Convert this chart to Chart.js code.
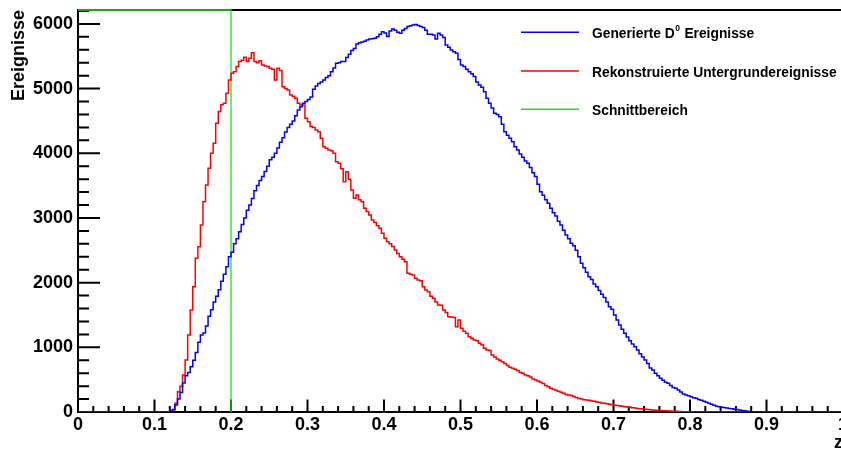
<!DOCTYPE html>
<html>
<head>
<meta charset="utf-8">
<script src="https://cdn.jsdelivr.net/npm/chart.js@4.4.1/dist/chart.umd.min.js"></script>
<style>
  html, body { margin: 0; padding: 0; background: #fff; overflow: hidden; }
  #wrap { width: 841px; height: 451px; overflow: hidden; }
  canvas { display: block; }
</style>
</head>
<body>
<div id="wrap"><canvas id="chart" width="850" height="451"></canvas></div>
<script>
// z-Verteilung: generierte D0 gegen rekonstruierten Untergrund, 300 Bins auf [0, 1]
const binWidth = 1 / 300;

const generierte = [
  0, 0, 0, 0, 0, 0, 0, 0, 0, 0, 0, 0, 0, 0, 0, 0, 0, 0, 0, 0,
  0, 0, 0, 0, 0, 0, 0, 0, 0, 0, 0, 0, 0, 0, 0, 0, 0, 10, 40, 110,
  200, 300, 450, 560, 610, 700, 800, 920, 1080, 1190, 1220, 1330, 1480, 1580, 1700, 1790, 1890, 2020, 2130, 2247,
  2401, 2470, 2600, 2680, 2788, 2900, 3000, 3120, 3200, 3300, 3420, 3500, 3580, 3640, 3720, 3800, 3900, 3940, 4000, 4080,
  4170, 4240, 4330, 4400, 4450, 4500, 4580, 4670, 4720, 4773, 4800, 4830, 4870, 4990, 5040, 5080, 5100, 5134, 5170, 5200,
  5260, 5320, 5392, 5400, 5417, 5420, 5480, 5530, 5590, 5620, 5690, 5710, 5720, 5730, 5750, 5768, 5770, 5780, 5800, 5840,
  5880, 5860, 5804, 5890, 5923, 5900, 5870, 5856, 5900, 5930, 5959, 5970, 5984, 5990, 5974, 5960, 5945, 5900, 5840, 5840,
  5830, 5768, 5856, 5830, 5788, 5675, 5640, 5597, 5570, 5546, 5450, 5366, 5340, 5300, 5262, 5230, 5185, 5100, 5056, 5020,
  4950, 4851, 4773, 4700, 4619, 4600, 4566, 4450, 4334, 4280, 4232, 4180, 4100, 4051, 3990, 3940, 3880, 3846, 3780, 3700,
  3640, 3520, 3407, 3350, 3280, 3227, 3150, 3080, 3030, 2950, 2892, 2810, 2737, 2680, 2610, 2570, 2500, 2400, 2299, 2230,
  2160, 2092, 2050, 1980, 1938, 1880, 1820, 1770, 1700, 1628, 1590, 1500, 1423, 1345, 1280, 1217, 1160, 1100, 1050, 1010,
  959, 900, 850, 804, 750, 680, 649, 600, 560, 520, 490, 460, 443, 410, 380, 366, 340, 310, 280, 263,
  250, 235, 220, 212, 195, 180, 165, 150, 135, 120, 105, 90, 82, 75, 68, 62, 56, 50, 44, 38,
  32, 25, 18, 10, 5, 2, 0, 0, 0, 0, 0, 0, 0, 0, 0, 0, 0, 0, 0, 0,
  0, 0, 0, 0, 0, 0, 0, 0, 0, 0, 0, 0, 0, 0, 0, 0, 0, 0, 0, 0
];

const untergrund = [
  0, 0, 0, 0, 0, 0, 0, 0, 0, 0, 0, 0, 0, 0, 0, 0, 0, 0, 0, 0,
  0, 0, 0, 0, 0, 0, 0, 0, 0, 0, 0, 0, 0, 0, 0, 0, 0, 10, 31, 134,
  314, 400, 572, 804, 1190, 1577, 1938, 2376, 2556, 2892, 3252, 3510, 3768, 4000, 4155, 4464, 4644, 4750, 4773, 4928,
  5134, 5237, 5262, 5340, 5417, 5440, 5485, 5417, 5470, 5556, 5420, 5400, 5430, 5366, 5350, 5340, 5314, 5300, 5134, 5314,
  5280, 5030, 5000, 4979, 4902, 4880, 4850, 4773, 4747, 4747, 4541, 4489, 4412, 4400, 4360, 4334, 4232, 4100, 4077, 4050,
  4040, 4000, 3870, 3846, 3760, 3561, 3716, 3600, 3433, 3304, 3356, 3280, 3252, 3149, 3100, 3046, 2969, 2930, 2880, 2840,
  2763, 2686, 2634, 2600, 2560, 2505, 2450, 2400, 2360, 2324, 2144, 2130, 2118, 2067, 2041, 2030, 1938, 1886, 1860, 1790,
  1758, 1700, 1655, 1650, 1577, 1540, 1474, 1470, 1460, 1319, 1423, 1294, 1250, 1217, 1165, 1140, 1113, 1100, 1062, 1040,
  985, 960, 950, 881, 850, 820, 800, 778, 750, 720, 690, 676, 660, 640, 610, 598, 572, 560, 540, 510,
  495, 480, 460, 440, 410, 390, 366, 350, 335, 320, 305, 290, 270, 263, 255, 240, 225, 210, 200, 190,
  186, 180, 170, 165, 155, 150, 140, 134, 128, 120, 112, 105, 100, 95, 88, 82, 78, 72, 66, 60,
  55, 50, 45, 41, 38, 35, 32, 28, 25, 22, 20, 18, 16, 15, 12, 10, 8, 6, 4, 2,
  1, 0, 0, 0, 0, 0, 0, 0, 0, 0, 0, 0, 0, 0, 0, 0, 0, 0, 0, 0,
  0, 0, 0, 0, 0, 0, 0, 0, 0, 0, 0, 0, 0, 0, 0, 0, 0, 0, 0, 0,
  0, 0, 0, 0, 0, 0, 0, 0, 0, 0, 0, 0, 0, 0, 0, 0, 0, 0, 0, 0
];

const schnittZ = 0.2;
const yMax = 6215;

const xTickValues = [0, 0.1, 0.2, 0.3, 0.4, 0.5, 0.6, 0.7, 0.8, 0.9, 1];
const xTickLabels = ['0', '0.1', '0.2', '0.3', '0.4', '0.5', '0.6', '0.7', '0.8', '0.9', '1'];
const yTickValues = [0, 1000, 2000, 3000, 4000, 5000, 6000];
const yTickLabels = ['0', '1000', '2000', '3000', '4000', '5000', '6000'];
const xMinorStep = 0.02;
const yMinorStep = 200;

const legendTexts = [
  [{ t: 'Generierte D' }, { t: '0', sup: true }, { t: ' Ereignisse' }],
  [{ t: 'Rekonstruierte Untergrundereignisse' }],
  [{ t: 'Schnittbereich' }]
];

const FONT = '"Liberation Sans", Arial, Helvetica, sans-serif';

// Histogramm -> Stufenpunkte an den linken Binkanten (+ rechte Kante des letzten Bins)
function histPoints(vals) {
  const pts = vals.map((v, i) => ({ x: i * binWidth, y: v }));
  pts.push({ x: vals.length * binWidth, y: vals[vals.length - 1] });
  return pts;
}

// Rahmen oben + ROOT-artige Ticks nach innen
const rahmen = {
  id: 'rahmen',
  beforeDatasetsDraw(chart) {
    const { ctx, chartArea: a, scales: { x, y } } = chart;
    ctx.save();
    ctx.strokeStyle = '#000';
    ctx.lineWidth = 2;
    ctx.beginPath();
    ctx.moveTo(a.left, a.top);
    ctx.lineTo(a.right + 2, a.top);
    for (let k = 0; k * yMinorStep <= yMax; k++) {
      const py = y.getPixelForValue(k * yMinorStep);
      const len = k % 5 === 0 ? 22 : 11;
      ctx.moveTo(a.left, py);
      ctx.lineTo(a.left + len, py);
    }
    for (let k = 0; k * xMinorStep <= 1.0001; k++) {
      const px = x.getPixelForValue(k * xMinorStep);
      const len = k % 5 === 0 ? 12.5 : 6;
      ctx.moveTo(px, a.bottom);
      ctx.lineTo(px, a.bottom - len);
    }
    ctx.stroke();
    ctx.restore();
  }
};

// Legende ohne Rahmen, oben rechts im Plot
const legende = {
  id: 'legende',
  afterDraw(chart) {
    const { ctx } = chart;
    const rowsY = [32.3, 71, 109.3];
    ctx.save();
    chart.data.datasets.forEach((ds, i) => {
      const yy = rowsY[i];
      ctx.strokeStyle = ds.borderColor;
      ctx.lineWidth = 1.5;
      ctx.beginPath();
      ctx.moveTo(521, yy);
      ctx.lineTo(579, yy);
      ctx.stroke();
      ctx.fillStyle = '#000';
      ctx.textBaseline = 'alphabetic';
      ctx.textAlign = 'left';
      let tx = 592;
      legendTexts[i].forEach(p => {
        if (p.sup) {
          ctx.font = 'bold 8.5px ' + FONT;
          ctx.fillText(p.t, tx + 0.5, yy - 1.8);
          tx += ctx.measureText(p.t).width + 1;
        } else {
          ctx.font = 'bold 13.8px ' + FONT;
          ctx.fillText(p.t, tx, yy + 5.8);
          tx += ctx.measureText(p.t).width;
        }
      });
    });
    ctx.restore();
  }
};

new Chart(document.getElementById('chart'), {
  type: 'line',
  data: {
    datasets: [
      { label: 'Generierte D⁰ Ereignisse', data: histPoints(generierte),
        borderColor: '#0000ff', borderWidth: 1.5, stepped: 'after', pointRadius: 0, fill: false },
      { label: 'Rekonstruierte Untergrundereignisse', data: histPoints(untergrund),
        borderColor: '#ff0000', borderWidth: 1.5, stepped: 'after', pointRadius: 0, fill: false },
      { label: 'Schnittbereich',
        data: [{ x: 0, y: yMax }, { x: schnittZ, y: yMax }, { x: schnittZ, y: 0 }],
        borderColor: '#22dd22', borderWidth: 1.3, pointRadius: 0, fill: false, clip: false }
    ]
  },
  options: {
    responsive: false,
    animation: false,
    devicePixelRatio: 1,
    layout: { padding: { top: 10, right: 7, left: 0, bottom: 0 } },
    plugins: { legend: { display: false }, tooltip: { enabled: false } },
    scales: {
      x: {
        type: 'linear', min: 0, max: 1,
        grid: { display: false, drawTicks: false, tickLength: 0 },
        border: { display: true, color: '#000', width: 2 },
        afterBuildTicks: s => { s.ticks = xTickValues.map(v => ({ value: v })); },
        ticks: {
          color: '#000', padding: 2, maxRotation: 0, autoSkip: false,
          font: { family: FONT, size: 18, weight: 'bold' },
          callback: (v, i) => xTickLabels[i]
        },
        title: {
          display: true, text: 'z', align: 'end', color: '#000',
          font: { family: FONT, size: 18, weight: 'bold', lineHeight: 0.9 },
          padding: 0
        },
        afterFit: s => { s.height = 39; s.paddingLeft = 0; s.paddingRight = 0; }
      },
      y: {
        type: 'linear', min: 0, max: yMax,
        grid: { display: false, drawTicks: false, tickLength: 0 },
        border: { display: true, color: '#000', width: 2 },
        afterBuildTicks: s => { s.ticks = yTickValues.map(v => ({ value: v })); },
        ticks: {
          color: '#000', padding: 5, autoSkip: false,
          font: { family: FONT, size: 18, weight: 'bold' },
          callback: (v, i) => yTickLabels[i]
        },
        title: {
          display: true, text: 'Ereignisse', align: 'end', color: '#000',
          font: { family: FONT, size: 18, weight: 'bold' },
          padding: { top: 8, bottom: 0 }
        },
        afterFit: s => { s.width = 78; s.paddingTop = 0; s.paddingBottom = 0; }
      }
    }
  },
  plugins: [rahmen, legende]
});
</script>
</body>
</html>
